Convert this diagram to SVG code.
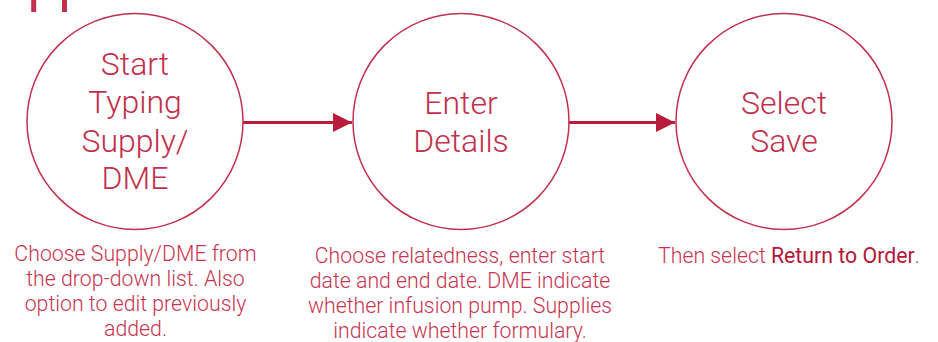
<svg xmlns="http://www.w3.org/2000/svg" width="938" height="342" viewBox="0 0 938 342">
<defs>
<style>
.node circle{fill:#fff;stroke:#c1304c;stroke-width:1.5}
.big{font-family:Roboto,"Liberation Sans",sans-serif;font-weight:300;font-size:32px;fill:#c1304c;text-anchor:middle}
.desc{font-family:Roboto,"Liberation Sans",sans-serif;font-weight:300;font-size:21.3px;fill:#c8344f;text-anchor:middle}
.conn line{stroke:#b71c3c;stroke-width:3}
.bold{font-weight:400;fill:#b3173a}
</style>
<marker id="ah" viewBox="0 0 10 10" refX="10" refY="5" markerWidth="6.5" markerHeight="6.5" markerUnits="strokeWidth" orient="auto">
<path d="M0,0 L10,5 L0,10 Z" fill="#b71c3c"/>
</marker>
</defs>
<rect width="938" height="342" fill="#fff"/>
<text transform="translate(27.5,-1.5) scale(1.05,1.2)" x="0" y="0" font-family="Roboto,'Liberation Sans',sans-serif" font-weight="400" font-size="52" fill="#c1304c">pp</text>
<g id="conns" class="conn">
<line x1="243" y1="122.5" x2="352" y2="122.5" marker-end="url(#ah)"/>
<line x1="568" y1="122.5" x2="675" y2="122.5" marker-end="url(#ah)"/>
</g>
<g id="node1" class="node">
<circle cx="135" cy="121.5" r="108"/>
<text class="big" x="135"><tspan x="135" y="75">Start</tspan><tspan x="135" y="113">Typing</tspan><tspan x="135" y="152">Supply/</tspan><tspan x="135" y="189">DME</tspan></text>
<text class="desc"><tspan x="135.5" y="261">Choose Supply/DME from</tspan><tspan x="135.5" y="286">the drop-down list. Also</tspan><tspan x="135.5" y="311">option to edit previously</tspan><tspan x="135.5" y="336">added.</tspan></text>
</g>
<g id="node2" class="node">
<circle cx="461" cy="121.5" r="108"/>
<text class="big"><tspan x="461" y="114">Enter</tspan><tspan x="461" y="152">Details</tspan></text>
<text class="desc"><tspan x="460" y="263">Choose relatedness, enter start</tspan><tspan x="460" y="288">date and end date. DME indicate</tspan><tspan x="460" y="313">whether infusion pump. Supplies</tspan><tspan x="460" y="338">indicate whether formulary.</tspan></text>
</g>
<g id="node3" class="node">
<circle cx="784" cy="121.5" r="108"/>
<text class="big"><tspan x="784" y="114">Select</tspan><tspan x="784" y="152">Save</tspan></text>
<text class="desc" x="658" y="263" style="text-anchor:start">Then select <tspan class="bold">Return to Order</tspan>.</text>
</g>
</svg>
